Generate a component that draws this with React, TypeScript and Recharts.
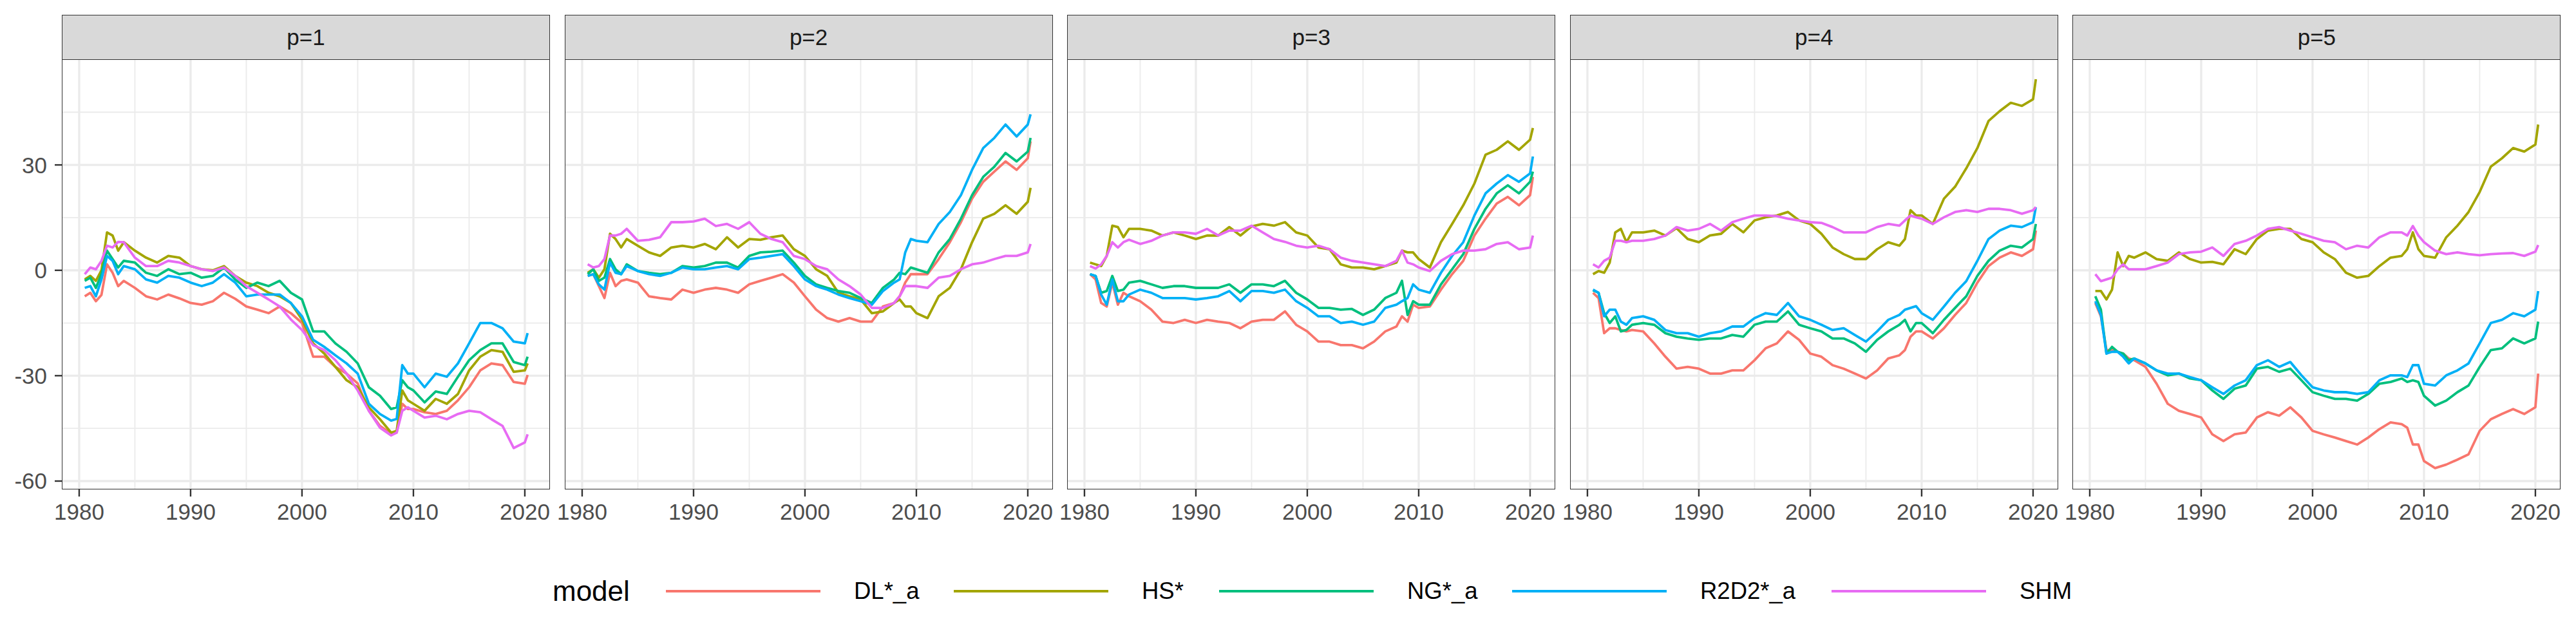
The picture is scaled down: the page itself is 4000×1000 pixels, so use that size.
import React from "react";
import { LineChart, Line, XAxis, YAxis, CartesianGrid } from "recharts";

// ---------- data ----------
const YEARS = [
  1980.5, 1981, 1981.5, 1982, 1982.5, 1983, 1983.5, 1984,
  1985, 1986, 1987, 1988, 1989, 1990, 1991, 1992, 1993, 1994, 1995, 1996,
  1997, 1998, 1999, 2000, 2001, 2002, 2003, 2004, 2005, 2006, 2007, 2008,
  2008.5, 2009, 2009.5, 2010,
  2011, 2012, 2013, 2014, 2015, 2016, 2017, 2018, 2019, 2020,
  2020.25,
];

// p=1
const P1_DL = [-7.4, -6.4, -8.8, -7, 1.7, -0.7, -4.5, -3,
  -5, -7.4, -8.3, -6.9, -8, -9.3, -9.8, -8.8, -6.4, -8.1, -10.3, -11.2, -12.2, -10.3, -12.2, -15, -24.6, -24.6, -27.5, -29.4, -32.2, -40, -44.3, -46.5,
  -46.2, -38, -39.5, -39.5,
  -40.4, -40.9, -40, -37, -33.3, -28.5, -26.5, -27, -31.8, -32.3,
  -29.8];
const P1_HS = [-2.6, -1.6, -3, 0, 10.8, 9.9, 5.6, 8,
  5.6, 3.6, 2.2, 4.1, 3.6, 1.2, 0.3, 0, 1.2, -1.6, -3.5, -4.5, -6.4, -7.4, -9.3, -14, -20.8, -23.7, -27.5, -31.3, -33.3, -39, -42.4, -46.2,
  -45.7, -34.2, -37, -38,
  -40, -36.6, -38, -35.2, -28.5, -24.6, -22.7, -23.2, -28.9, -28.5,
  -26.5];
const P1_NG = [-3, -2.1, -5, -1.1, 5.6, 3.2, 0.8, 2.7,
  2.2, -0.7, -1.6, 0.3, -1.1, -0.7, -2.1, -1.6, 0.8, -2.6, -5, -3.5, -4.5, -3, -6.4, -8.3, -17.4, -17.4, -20.8, -23.2, -26.5, -33.3, -35.7, -39.5,
  -39, -31.3, -33.3, -34.2,
  -37.6, -34.5, -35.2, -30.3, -25.6, -22.7, -20.8, -20.8, -26.1, -27,
  -24.6];
const P1_R2D2 = [-5, -4.5, -7.4, -2.6, 4.1, 2.7, -1.1, 1.2,
  0.3, -2.6, -3.5, -1.6, -2.1, -3.5, -4.5, -3.5, -1.1, -3.5, -7.4, -6.9, -6.9, -6.9, -9.3, -13.1, -19.8, -21.8, -24.2, -26.5, -29.4, -38, -40.9, -42.8,
  -42.3, -27, -29.4, -29.4,
  -33.3, -29.4, -30.3, -26.5, -20.8, -15, -15, -16.5, -20.3, -20.8,
  -17.9];
const P1_SHM = [-1.1, 0.8, 0.3, 2.7, 7, 6.5, 8.1, 8,
  3.6, 1.2, 1.2, 2.7, 2.2, 1.2, 0.3, -0.2, 0.8, -1.6, -4.5, -6.4, -8.3, -10.3, -14, -17, -21.3, -22.7, -25.6, -29.4, -34.2, -40, -44.8, -47,
  -46.2, -40, -39, -40,
  -41.9, -41.4, -42.4, -40.9, -40, -40.4, -42.4, -44.3, -50.6, -49,
  -46.7];

// p=2
const P2_DL = [-1.6, -1.1, -4.5, -7.9, -0.7, -4.5, -3, -2.6,
  -3.5, -7.4, -7.9, -8.3, -5.5, -6.4, -5.5, -5, -5.5, -6.4, -4, -3, -2.1, -1.1, -3.5, -7.4, -11.2, -13.6, -14.6, -13.6, -14.6, -14.6, -10.3, -9.3,
  -7.4, -3.5, -1.1, -1.1,
  -1.1, 3.2, 8, 13.7, 20.4, 25.2, 28.1, 31, 28.6, 31.9,
  36.7];
const P2_HS = [-0.7, 0.3, -2.1, 0.3, 10.4, 8.9, 6.5, 8.9,
  7, 5.1, 4.1, 6.5, 7, 6.5, 7.5, 6, 9.4, 6.5, 8.9, 8.7, 9.4, 9.9, 6, 4.1, 0.3, -1.6, -6.4, -7.4, -8.3, -12.2, -11.7, -9.3,
  -8.3, -10.3, -10.3, -12.2,
  -13.6, -7.4, -5, 0.3, 8, 14.7, 16.1, 18.5, 16.1, 19.5,
  23.5];
const P2_NG = [-1.1, 0.3, -3, -2.1, 3.2, 0.3, -1.1, 1.7,
  -0.2, -0.7, -1.1, -0.7, 1.2, 0.8, 1.2, 2.2, 2.2, 0.8, 4.1, 5.1, 5.3, 5.6, 2.2, -1.6, -4, -5, -5.9, -6.4, -7.9, -9.3, -5, -2.6,
  -0.7, -1.1, 0.8, 0.3,
  -0.7, 5.1, 8.9, 14.7, 21.4, 26.6, 29.5, 33.4, 31, 33.8,
  37.7];
const P2_R2D2 = [-1.6, -1.1, -4, -5.5, 2.2, -0.7, -1.1, 1.2,
  -0.2, -1.1, -1.6, -0.7, 0.8, 0.3, 0.3, 0.8, 1.2, 0.3, 3.2, 3.6, 4.1, 4.6, 1.2, -2.6, -4.5, -5.5, -6.9, -7.9, -8.8, -9.8, -5.9, -3.5,
  -2.6, 5.1, 8.9, 8.4,
  8, 13.2, 16.6, 21.4, 28.6, 34.8, 37.7, 41.5, 38.1, 41.5,
  44.4];
const P2_SHM = [1.7, 0.8, 1.2, 3.2, 9.9, 9.9, 10.4, 11.8,
  8.4, 8.7, 9.4, 13.7, 13.7, 13.9, 14.7, 12.6, 13.2, 11.8, 13.7, 10.4, 8.9, 8, 4.1, 3.2, 1.2, 0.3, -2.6, -4.5, -6.9, -10.7, -10.7, -9.3,
  -7.4, -4.5, -4.5, -4.5,
  -5, -2.1, -1.6, 0.3, 1.7, 2.2, 3.2, 4.1, 4.1, 5.1,
  7.5];

// p=3
const P3_DL = [-1.1, -2.6, -9.3, -10.3, -3.5, -9.8, -6.4, -7.4,
  -8.8, -11.2, -14.6, -15, -14.1, -15, -14.1, -14.6, -15, -16.5, -14.6, -14.1, -14.1, -11.7, -15.5, -17.4, -20.3, -20.3, -21.3, -21.3, -22.2, -20.3, -17.4, -16,
  -13.1, -14.6, -9.8, -10.7,
  -10.3, -5.5, -1.1, 2.7, 9.9, 14.7, 19, 20.9, 18.5, 21.4,
  26.6];
const P3_HS = [2.2, 1.7, 1.2, 4.1, 12.7, 12.3, 9.4, 11.8,
  11.8, 11.3, 9.9, 10.8, 9.9, 8.9, 9.9, 9.9, 12.3, 9.9, 12.5, 13.2, 12.7, 13.7, 10.8, 9.9, 6.5, 6, 1.7, 0.8, 0.8, 0.3, 1.2, 2.2,
  5.6, 5.1, 5.1, 3.2,
  0.8, 8, 13.2, 18.5, 24.7, 32.9, 34.3, 36.7, 34.3, 37.2,
  40.5];
const P3_NG = [-1.1, -1.6, -6.4, -5.9, -1.6, -5.9, -5.5, -3.5,
  -3, -4, -5, -4.5, -4.5, -5, -5, -5, -4, -6.4, -4, -4, -4.5, -3, -6.4, -8.3, -10.7, -10.7, -11.2, -11, -12.7, -11.2, -7.9, -6.4,
  -3, -12.7, -8.8, -9.8,
  -9.8, -4, 0.3, 4.6, 11.8, 17.5, 21.9, 24.2, 21.9, 25.2,
  28.1];
const P3_R2D2 = [-1.1, -1.6, -6.9, -9.8, -2.6, -8.8, -8.8, -6.9,
  -5.5, -6.4, -7.9, -7.9, -7.9, -8.3, -7.9, -7.4, -5.9, -8.8, -5.9, -5.9, -6.4, -5.5, -8.8, -10.7, -13.1, -13.1, -15, -14.6, -15.5, -14.6, -10.7, -9.8,
  -8.8, -7.9, -4, -5.5,
  -6.4, -0.7, 4.1, 8, 15.6, 21.9, 24.7, 27.1, 25.2, 27.6,
  32.4];
const P3_SHM = [1.2, 0.5, 1.7, 4.1, 8, 6.5, 8, 8.7,
  7.5, 8.4, 9.9, 10.8, 10.8, 10.4, 11.8, 9.9, 11.3, 11.3, 12.7, 10.8, 8.9, 8.1, 7, 6.5, 7, 6, 3.6, 2.7, 2.2, 1.7, 1.2, 2.7,
  5.6, 2.2, 1.7, 0.8,
  -0.2, 2.7, 4.6, 5.6, 5.6, 6, 7.5, 8, 6, 6.5,
  9.9];

// p=4
const P4_DL = [-6.4, -7.9, -17.9, -16.5, -16.5, -17, -17.4, -17,
  -17.4, -20.8, -24.6, -28, -27.5, -28, -29.4, -29.4, -28.5, -28.5, -25.6, -22.2, -20.8, -17.4, -19.8, -23.7, -24.6, -27, -28, -29.4, -30.8, -28.5, -25.1, -24.2,
  -22.7, -18.9, -17.4, -17.4,
  -19.4, -16.5, -12.7, -9.3, -3.5, 1.2, 3.6, 5.1, 4.1, 6,
  11.3];
const P4_HS = [-1.1, -0.2, -0.7, 2.2, 10.8, 11.8, 8, 10.8,
  10.8, 11.3, 9.9, 12, 8.9, 8, 9.9, 10.4, 13.2, 10.8, 14.2, 15.1, 15.6, 16.6, 14.2, 13.2, 10.4, 6.5, 4.6, 3.2, 3.2, 6, 8, 7,
  8.9, 17.1, 15.6, 15.6,
  13.2, 20.4, 23.8, 29, 34.8, 42.5, 45.3, 47.7, 46.8, 48.7,
  54.4];
const P4_NG = [-5.7, -6.4, -12.2, -15, -13.1, -17.4, -17, -15.5,
  -15, -15.5, -17.9, -18.9, -19.4, -19.8, -19.4, -19.4, -18.4, -18.9, -15.5, -14.6, -14.6, -11.7, -15.5, -16.5, -17.4, -19.4, -19.4, -20.8, -23.2, -19.8, -17.4, -15.5,
  -14.1, -17.4, -15, -15,
  -17.9, -14.1, -10.7, -7.4, -1.6, 2.7, 5.6, 7, 6.5, 8.9,
  13.2];
const P4_R2D2 = [-5.5, -6.4, -13.1, -11.2, -11.2, -14.6, -15.5, -13.6,
  -13.1, -14.1, -17, -17.9, -17.9, -18.9, -17.9, -17.4, -16, -16, -13.6, -12.2, -12.7, -9.3, -13.1, -14.1, -15.5, -17, -16.5, -18.4, -20.3, -17.4, -14.1, -12.7,
  -11.2, -10.7, -10.2, -12.2,
  -14.1, -10.3, -6.4, -3.1, 2.7, 8.9, 11.3, 12.7, 12.3, 13.7,
  18];
const P4_SHM = [1.7, 0.8, 2.7, 3.6, 8.4, 8.4, 8, 8.4,
  8.4, 8.9, 9.9, 12.3, 11.3, 11.8, 13.2, 11.3, 13.7, 14.7, 15.6, 15.6, 15.4, 14.7, 14.2, 13.7, 13.5, 12.3, 10.8, 10.8, 10.8, 12.3, 13.2, 12.7,
  14.2, 15.6, 15.1, 14.7,
  13.2, 15.1, 16.6, 17.1, 16.6, 17.5, 17.5, 17.1, 16.1, 17.1,
  18];

// p=5
const P5_DL = [-9.3, -13.1, -22.7, -22.7, -23.2, -23.7, -25.1, -25.6,
  -27.5, -32.3, -38, -40, -40.9, -41.9, -46.7, -48.6, -46.7, -46.2, -41.9, -40.4, -41.4, -39, -41.9, -45.7, -46.7, -47.6, -48.6, -49.6, -47.6, -45.2, -43.3, -43.8,
  -44.8, -49.6, -49.6, -54.3,
  -56.3, -55.3, -53.9, -52.4, -45.7, -42.4, -40.9, -39.5, -40.9, -39,
  -29.4];
const P5_HS = [-5.9, -5.9, -8.3, -5.5, 5.1, 1.2, 4.1, 3.6,
  5.1, 3.2, 2.7, 5.1, 3.2, 2.2, 2.4, 1.7, 6, 4.6, 8.9, 11.3, 11.8, 11.8, 8.9, 8, 5.1, 3.2, -0.7, -2.1, -1.6, 1.2, 3.6, 4.1,
  6, 10.8, 6, 4.1,
  3.6, 9.4, 12.7, 16.6, 22.3, 29.5, 31.9, 34.8, 33.8, 35.8,
  41.5];
const P5_NG = [-7.4, -11.2, -23.7, -21.8, -23.2, -23.7, -25.6, -25.1,
  -26.5, -28.5, -29.9, -29.4, -30.8, -31.3, -34.2, -36.6, -33.7, -32.8, -28, -27.5, -28.9, -28, -31.3, -34.7, -35.7, -36.6, -36.6, -37.1, -35.2, -32.3, -31.8, -30.8,
  -31.8, -31.3, -31.8, -35.7,
  -38.5, -37.1, -34.7, -32.8, -27.5, -22.7, -22.2, -19.4, -20.8, -19.4,
  -14.6];
const P5_R2D2 = [-8.8, -12.7, -23.7, -23.2, -23.2, -24.6, -26.5, -25.1,
  -26.5, -28.5, -29.4, -29.4, -30.4, -31.3, -33.3, -35.2, -32.8, -31.3, -27, -25.6, -27.5, -26.1, -29.9, -33.3, -34.2, -34.7, -34.7, -35.2, -34.7, -31.3, -29.9, -29.9,
  -30.4, -27, -27, -32.3,
  -32.8, -29.9, -28.5, -26.5, -20.8, -15, -14.1, -12.2, -13.1, -11.2,
  -5.9];
const P5_SHM = [-1.1, -3.1, -2.6, -2.1, 0.3, 1.7, 0.3, 0.3,
  0.3, 1.2, 2.2, 4.6, 5.1, 5.3, 6.5, 4.1, 7.5, 8.4, 9.9, 11.8, 12.3, 11.3, 10.4, 9.4, 8.4, 8, 6, 7, 6.5, 9.4, 10.8, 10.8,
  9.9, 12.6, 9.9, 8,
  5.6, 4.6, 5.1, 4.6, 4.3, 4.6, 4.8, 4.9, 4.1, 5.3,
  7.2];

const MODELS = ["DL*_a", "HS*", "NG*_a", "R2D2*_a", "SHM"];
const COLORS = ["#F8766D", "#A3A500", "#00BF7D", "#00B0F6", "#E76BF3"];
const PANEL_TITLES = ["p=1", "p=2", "p=3", "p=4", "p=5"];
const X_TICKS = [1980, 1990, 2000, 2010, 2020];
const X_MINOR = [1985, 1995, 2005, 2015];
const Y_TICKS = [-60, -30, 0, 30];
const Y_MINOR = [-45, -15, 15, 45];

const PANEL_SERIES = [
  [P1_DL, P1_HS, P1_NG, P1_R2D2, P1_SHM],
  [P2_DL, P2_HS, P2_NG, P2_R2D2, P2_SHM],
  [P3_DL, P3_HS, P3_NG, P3_R2D2, P3_SHM],
  [P4_DL, P4_HS, P4_NG, P4_R2D2, P4_SHM],
  [P5_DL, P5_HS, P5_NG, P5_R2D2, P5_SHM],
];

// ---------- layout ----------
const FONT = "'Liberation Sans', Arial, Helvetica, sans-serif";
const PANEL_LEFT0 = 97;
const PANEL_STEP = 780.6;
const PANEL_W = 756;
const PANEL_TOP = 93;
const PANEL_BOTTOM = 759;
const STRIP_TOP = 23;
const CHART_H = 1000;
const X_AXIS_H = 60;
const SIDE = 40;
const Y_DOMAIN = [-62.2, 59.9];
const X_DOMAIN = [1978.5, 2022.2];

const LEGEND_Y = 918;
const LEGEND_TITLE_X = 858;
const LEGEND_KEY_X = [1034, 1481, 1893, 2348, 2844];
const LEGEND_KEY_W = 240;
const LEGEND_LABEL_GAP = 52;

function Panel({ index }: { index: number }) {
  const series = PANEL_SERIES[index];
  const data = YEARS.map((year, k) => {
    const row: Record<string, number> = { year };
    MODELS.forEach((m, j) => {
      row[m] = series[j][k];
    });
    return row;
  });
  const first = index === 0;
  const panelLeft = PANEL_LEFT0 + index * PANEL_STEP;
  const chartLeft = first ? 0 : panelLeft - SIDE;
  const marginLeft = first ? 0 : SIDE;
  const width = (first ? PANEL_LEFT0 : SIDE) + PANEL_W + SIDE;
  const bottom = CHART_H - PANEL_BOTTOM - X_AXIS_H;
  return (
    <>
      <div style={{ position: "absolute", left: chartLeft, top: 0 }}>
        <LineChart
          width={width}
          height={CHART_H}
          data={data}
          margin={{ top: PANEL_TOP, right: SIDE, bottom, left: marginLeft }}
        >
          <CartesianGrid
            stroke="#EBEBEB"
            strokeWidth={1.8}
            horizontalValues={Y_MINOR}
            verticalValues={X_MINOR}
          />
          <CartesianGrid
            stroke="#EBEBEB"
            strokeWidth={3.3}
            horizontalValues={Y_TICKS}
            verticalValues={X_TICKS}
          />
          <XAxis
            dataKey="year"
            type="number"
            domain={X_DOMAIN}
            ticks={X_TICKS}
            interval={0}
            height={X_AXIS_H}
            axisLine={false}
            tickSize={12}
            tickMargin={11}
            tickLine={{ stroke: "#333333", strokeWidth: 2.4 }}
            tick={{ fill: "#4D4D4D", fontSize: 35, fontFamily: FONT }}
          />
          <YAxis
            type="number"
            domain={Y_DOMAIN}
            ticks={Y_TICKS}
            interval={0}
            hide={!first}
            width={PANEL_LEFT0}
            axisLine={false}
            tickSize={12}
            tickMargin={12}
            tickLine={{ stroke: "#333333", strokeWidth: 2.4 }}
            tick={{ fill: "#4D4D4D", fontSize: 35, fontFamily: FONT }}
          />
          {MODELS.map((m, j) => (
            <Line
              key={m}
              type="linear"
              dataKey={m}
              stroke={COLORS[j]}
              strokeWidth={3.8}
              strokeLinejoin="round"
              dot={false}
              activeDot={false}
              isAnimationActive={false}
            />
          ))}
        </LineChart>
      </div>
      <div
        style={{
          position: "absolute",
          left: panelLeft - 1,
          top: PANEL_TOP - 1,
          width: PANEL_W + 2,
          height: PANEL_BOTTOM - PANEL_TOP + 2,
          border: "1.8px solid #333333",
          boxSizing: "border-box",
          pointerEvents: "none",
        }}
      />
      <div
        style={{
          position: "absolute",
          left: panelLeft - 1,
          top: STRIP_TOP,
          width: PANEL_W + 2,
          height: PANEL_TOP - STRIP_TOP,
          border: "1.8px solid #333333",
          boxSizing: "border-box",
          background: "#D9D9D9",
          display: "flex",
          alignItems: "center",
          justifyContent: "center",
          fontFamily: FONT,
          fontSize: 35,
          color: "#1A1A1A",
        }}
      >
        {PANEL_TITLES[index]}
      </div>
    </>
  );
}

function Legend() {
  return (
    <>
      <div
        style={{
          position: "absolute",
          left: LEGEND_TITLE_X,
          top: LEGEND_Y - 30,
          height: 60,
          display: "flex",
          alignItems: "center",
          fontFamily: FONT,
          fontSize: 44,
          color: "#000000",
        }}
      >
        model
      </div>
      {MODELS.map((m, j) => (
        <React.Fragment key={m}>
          <svg
            width={LEGEND_KEY_W}
            height={20}
            style={{ position: "absolute", left: LEGEND_KEY_X[j], top: LEGEND_Y - 10 }}
          >
            <line x1={0} x2={LEGEND_KEY_W} y1={10} y2={10} stroke={COLORS[j]} strokeWidth={4.2} />
          </svg>
          <div
            style={{
              position: "absolute",
              left: LEGEND_KEY_X[j] + LEGEND_KEY_W + LEGEND_LABEL_GAP,
              top: LEGEND_Y - 30,
              height: 60,
              display: "flex",
              alignItems: "center",
              fontFamily: FONT,
              fontSize: 36.5,
              color: "#000000",
              whiteSpace: "nowrap",
            }}
          >
            {m}
          </div>
        </React.Fragment>
      ))}
    </>
  );
}

export default function App() {
  return (
    <div
      style={{
        position: "absolute",
        left: 0,
        top: 0,
        width: 4000,
        height: 1000,
        background: "#FFFFFF",
        overflow: "hidden",
      }}
    >
      {PANEL_TITLES.map((_, i) => (
        <Panel key={i} index={i} />
      ))}
      <Legend />
    </div>
  );
}
